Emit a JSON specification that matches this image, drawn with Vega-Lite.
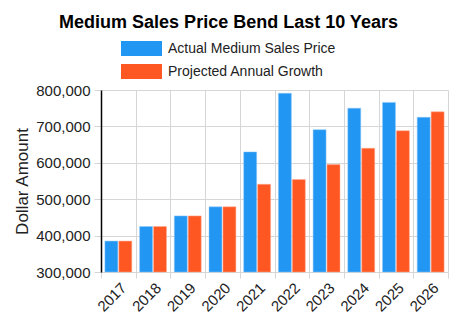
{
  "$schema": "https://vega.github.io/schema/vega-lite/v6.json",
  "autosize": {"type": "none"},
  "padding": {"left": 101, "top": 90, "right": 9, "bottom": 51},
  "width": 347,
  "height": 182,
  "background": "white",
  "title": {
    "text": "Medium Sales Price Bend Last 10 Years",
    "font": "Liberation Sans",
    "fontSize": 18,
    "fontWeight": "bold",
    "color": "#000000",
    "anchor": "middle",
    "dx": -46,
    "offset": 6
  },
  "config": {
    "font": "Liberation Sans",
    "view": {"stroke": null},
    "axis": {"labelFont": "Liberation Sans", "titleFont": "Liberation Sans", "labelColor": "#222222", "titleColor": "#222222"}
  },
  "data": {
    "values": [
      {"year": "2017", "series": "Actual Medium Sales Price", "value": 385000},
      {"year": "2017", "series": "Projected Annual Growth", "value": 385000},
      {"year": "2018", "series": "Actual Medium Sales Price", "value": 425000},
      {"year": "2018", "series": "Projected Annual Growth", "value": 425000},
      {"year": "2019", "series": "Actual Medium Sales Price", "value": 454000},
      {"year": "2019", "series": "Projected Annual Growth", "value": 454000},
      {"year": "2020", "series": "Actual Medium Sales Price", "value": 479000},
      {"year": "2020", "series": "Projected Annual Growth", "value": 479000},
      {"year": "2021", "series": "Actual Medium Sales Price", "value": 630000},
      {"year": "2021", "series": "Projected Annual Growth", "value": 541000},
      {"year": "2022", "series": "Actual Medium Sales Price", "value": 791000},
      {"year": "2022", "series": "Projected Annual Growth", "value": 554000},
      {"year": "2023", "series": "Actual Medium Sales Price", "value": 691000},
      {"year": "2023", "series": "Projected Annual Growth", "value": 595000},
      {"year": "2024", "series": "Actual Medium Sales Price", "value": 750000},
      {"year": "2024", "series": "Projected Annual Growth", "value": 640000},
      {"year": "2025", "series": "Actual Medium Sales Price", "value": 766000},
      {"year": "2025", "series": "Projected Annual Growth", "value": 688000},
      {"year": "2026", "series": "Actual Medium Sales Price", "value": 725000},
      {"year": "2026", "series": "Projected Annual Growth", "value": 740000}
    ]
  },
  "mark": {"type": "bar", "strokeWidth": 1, "strokeOpacity": 0.5},
  "encoding": {
    "x": {
      "field": "year",
      "type": "nominal",
      "scale": {"paddingInner": 0, "paddingOuter": 0},
      "axis": {
        "title": null,
        "tickBand": "extent",
        "grid": true,
        "gridColor": "#d6d6d6",
        "tickColor": "#d6d6d6",
        "tickSize": 6,
        "domainColor": "#d6d6d6",
        "labelAngle": -45,
        "labelFontSize": 15,
        "labelPadding": 2
      }
    },
    "xOffset": {
      "field": "series",
      "type": "nominal",
      "scale": {"paddingInner": 0.07, "paddingOuter": 0.28}
    },
    "y": {
      "field": "value",
      "type": "quantitative",
      "scale": {"domain": [300000, 800000], "zero": false, "nice": false},
      "axis": {
        "title": "Dollar Amount",
        "titleFontSize": 17,
        "titleFontWeight": "normal",
        "titlePadding": 4,
        "values": [300000, 400000, 500000, 600000, 700000, 800000],
        "format": ",.0f",
        "labelFontSize": 15,
        "labelPadding": 4,
        "grid": true,
        "gridColor": "#d6d6d6",
        "tickColor": "#d6d6d6",
        "tickSize": 7,
        "domainColor": "#000000",
        "domainWidth": 1.5
      }
    },
    "y2": {"datum": 300000},
    "color": {
      "field": "series",
      "type": "nominal",
      "scale": {
        "domain": ["Actual Medium Sales Price", "Projected Annual Growth"],
        "range": ["#2196F3", "#FF5722"]
      },
      "legend": {
        "title": null,
        "orient": "none",
        "legendX": 30,
        "legendY": -52,
        "direction": "vertical",
        "symbolType": "M-2,-0.74H2V0.74H-2Z",
        "symbolSize": 420,
        "symbolOpacity": 1,
        "symbolStrokeWidth": 0,
        "labelFontSize": 14,
        "labelColor": "#222222",
        "labelFont": "Liberation Sans",
        "labelLimit": 400,
        "labelOffset": 16,
        "rowPadding": 4
      }
    },
    "stroke": {
      "field": "series",
      "type": "nominal",
      "scale": {
        "domain": ["Actual Medium Sales Price", "Projected Annual Growth"],
        "range": ["#90CAF9", "#FFAB91"]
      },
      "legend": null
    }
  }
}
